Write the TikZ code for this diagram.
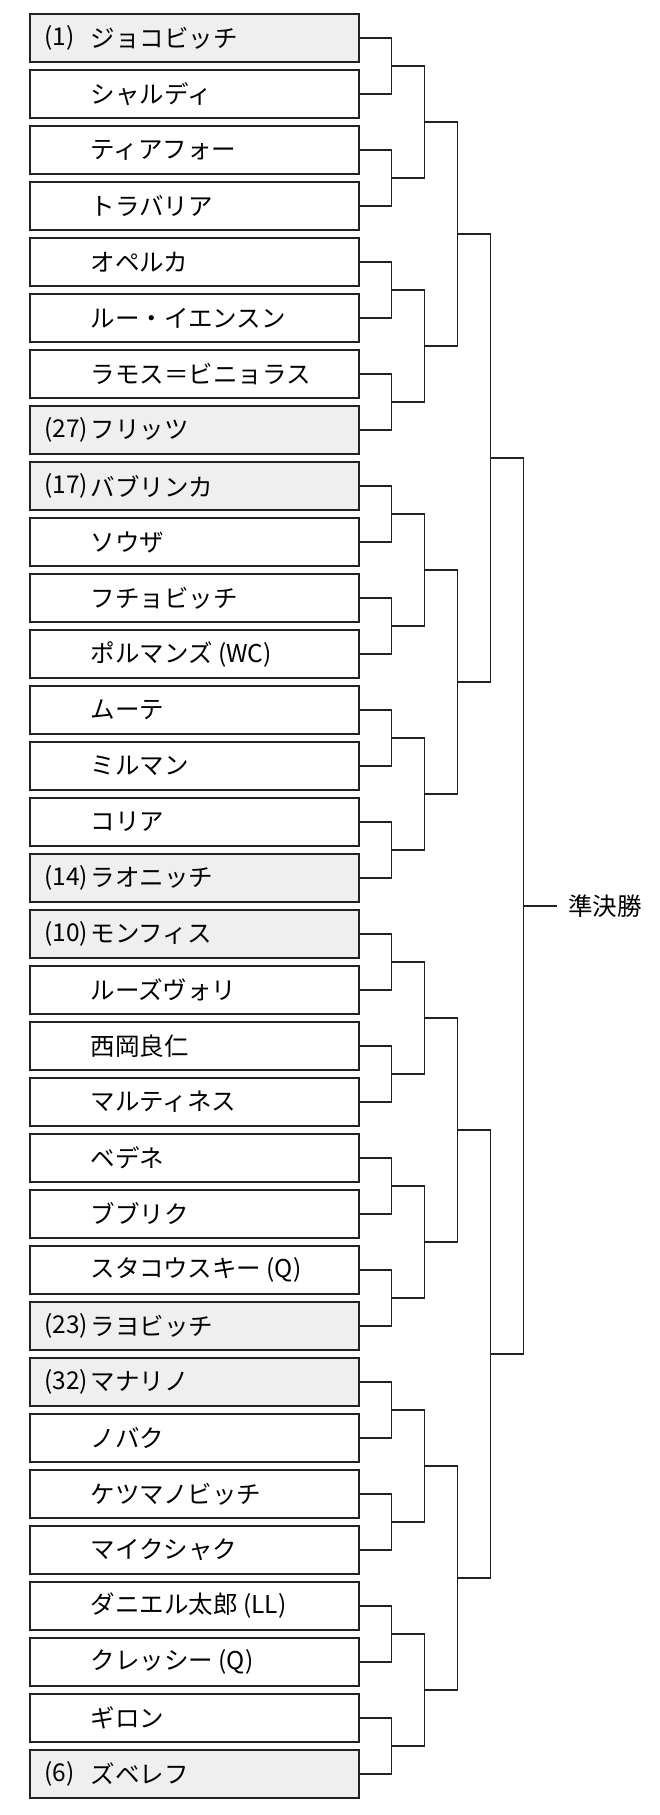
\documentclass[tikz,border=0pt]{standalone}
\usepackage{fontspec}
\setmainfont{Noto Sans CJK JP}
\definecolor{seedgray}{RGB}{239,239,239}
\definecolor{linecol}{RGB}{34,34,34}
\begin{document}
\begin{tikzpicture}[x=1pt,y=-1pt,
  box/.style={draw=linecol,line width=1.8pt,minimum width=329pt,minimum height=48pt,inner sep=0pt,fill=white},
  seedbox/.style={box,fill=seedgray},
  conn/.style={draw=linecol,line width=1.4pt},
  lbl/.style={anchor=west,inner sep=0pt,font=\fontsize{24.5}{28}\selectfont}]
\fill[white] (0,0) rectangle (660,1815);
\useasboundingbox (0,0) rectangle (660,1815);
% players: index/seed/name
\foreach \i/\s/\n in {
 0/(1)/ジョコビッチ,
 1//シャルディ,
 2//ティアフォー,
 3//トラバリア,
 4//オペルカ,
 5//ルー・イエンスン,
 6//ラモス＝ビニョラス,
 7/(27)/フリッツ,
 8/(17)/バブリンカ,
 9//ソウザ,
 10//フチョビッチ,
 11//ポルマンズ (WC),
 12//ムーテ,
 13//ミルマン,
 14//コリア,
 15/(14)/ラオニッチ,
 16/(10)/モンフィス,
 17//ルーズヴォリ,
 18//西岡良仁,
 19//マルティネス,
 20//ベデネ,
 21//ブブリク,
 22//スタコウスキー (Q),
 23/(23)/ラヨビッチ,
 24/(32)/マナリノ,
 25//ノバク,
 26//ケツマノビッチ,
 27//マイクシャク,
 28//ダニエル太郎 (LL),
 29//クレッシー (Q),
 30//ギロン,
 31/(6)/ズベレフ}{
  \pgfmathsetmacro{\yy}{38+56*\i}
  \ifx\s\empty
    \node[box] (p\i) at (194.5,\yy) {};
  \else
    \node[seedbox] (p\i) at (194.5,\yy) {};
    \node[lbl] (s\i) at (44,\yy) {\s};
  \fi
  \node[lbl] (n\i) at (90.5,\yy) {\n};
}
% round 1
\foreach \k in {0,...,15}{
  \pgfmathtruncatemacro{\ia}{2*\k}
  \pgfmathtruncatemacro{\ib}{2*\k+1}
  \coordinate (a\k) at (391.5,66+112*\k);
  \draw[conn] (p\ia.east) -| (a\k) |- (p\ib.east);
}
% round 2
\foreach \k in {0,...,7}{
  \pgfmathtruncatemacro{\ia}{2*\k}
  \pgfmathtruncatemacro{\ib}{2*\k+1}
  \coordinate (b\k) at (424.5,122+224*\k);
  \draw[conn] (a\ia) -| (b\k) |- (a\ib);
}
% round 3
\foreach \k in {0,...,3}{
  \pgfmathtruncatemacro{\ia}{2*\k}
  \pgfmathtruncatemacro{\ib}{2*\k+1}
  \coordinate (c\k) at (457.5,234+448*\k);
  \draw[conn] (b\ia) -| (c\k) |- (b\ib);
}
% round 4
\foreach \k in {0,1}{
  \pgfmathtruncatemacro{\ia}{2*\k}
  \pgfmathtruncatemacro{\ib}{2*\k+1}
  \coordinate (d\k) at (490.5,458+896*\k);
  \draw[conn] (c\ia) -| (d\k) |- (c\ib);
}
% round 5
\coordinate (e) at (523.5,906);
\draw[conn] (d0) -| (e) |- (d1);
\node[lbl] (sf) at (568,906) {準決勝};
\draw[conn] (e) -- ([xshift=-11.5pt]sf.west);
\end{tikzpicture}
\end{document}
